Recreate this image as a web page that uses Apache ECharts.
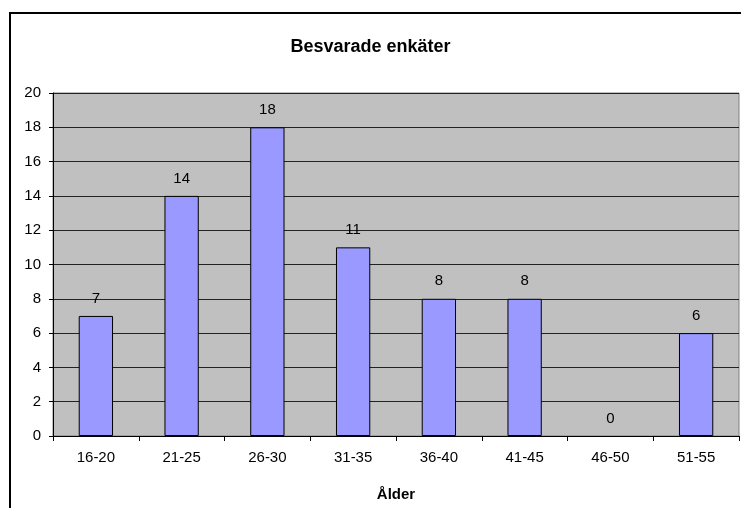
<!DOCTYPE html>
<html>
<head>
<meta charset="utf-8">
<script src="https://cdn.jsdelivr.net/npm/echarts@6/dist/echarts.min.js"></script>
<style>
  html, body { margin: 0; padding: 0; background: #fff; overflow: hidden; }
  #frame { position: absolute; left: 9px; top: 12px; width: 800px; height: 600px;
           border-left: 2px solid #000; border-top: 2px solid #000; }
  #chart { position: absolute; left: 0; top: 0; width: 741px; height: 508px; }
</style>
</head>
<body>
<div id="frame"></div>
<div id="chart"></div>
<script>
  // åldersgrupper och antal svar
  const categories = ['16-20', '21-25', '26-30', '31-35', '36-40', '41-45', '46-50', '51-55']
  const answers = [7, 14, 18, 11, 8, 8, 0, 6]
  const yTicks = [0, 2, 4, 6, 8, 10, 12, 14, 16, 18, 20]

  // en stapel med värdet 0 ska inte ritas med kantlinje
  function bar_data (values){
    let all_bars = []
    for (let v of values){
      all_bars.push(v === 0 ? {value: v, itemStyle: {borderWidth: 0, opacity: 0}} : v)
    }
    return all_bars
  }

  let mychart = echarts.init(document.getElementById('chart'))
  mychart.setOption({
    animation: false,
    textStyle: { fontFamily: 'Liberation Sans, Arial, sans-serif' },
    title: {
      text: 'Besvarade enkäter',
      left: 'center',
      top: 33,
      textStyle: { fontSize: 18, fontWeight: 'bold', color: '#000' }
    },
    grid: {
      left: 53,
      right: 2,
      top: 93,
      bottom: 72,
      show: true,
      backgroundColor: '#C0C0C0',
      borderColor: '#808080',
      borderWidth: 1
    },
    xAxis: {
      type: 'category',
      data: categories,
      name: 'Ålder',
      nameLocation: 'middle',
      nameGap: 51,
      nameTextStyle: { fontSize: 15, fontWeight: 'bold', color: '#000' },
      axisLine: { lineStyle: { color: '#000', width: 1 } },
      axisTick: { show: true, length: 5, lineStyle: { color: '#000' } },
      axisLabel: { fontSize: 15, color: '#000', margin: 14 }
    },
    yAxis: {
      type: 'value',
      min: yTicks[0],
      max: yTicks[yTicks.length - 1],
      interval: 2,
      axisLine: { show: true, lineStyle: { color: '#000', width: 1 } },
      axisTick: { show: true, length: 4, lineStyle: { color: '#000' } },
      axisLabel: { fontSize: 15, color: '#000', margin: 12 },
      splitLine: { lineStyle: { color: '#222', width: 1 } }
    },
    series: [{
      type: 'bar',
      data: bar_data(answers),
      barWidth: '40%',
      itemStyle: { color: '#9999FF', borderColor: '#000', borderWidth: 1 },
      label: { show: true, position: 'top', distance: 10, fontSize: 15, color: '#000', opacity: 1 }
    }]
  })
</script>
</body>
</html>
